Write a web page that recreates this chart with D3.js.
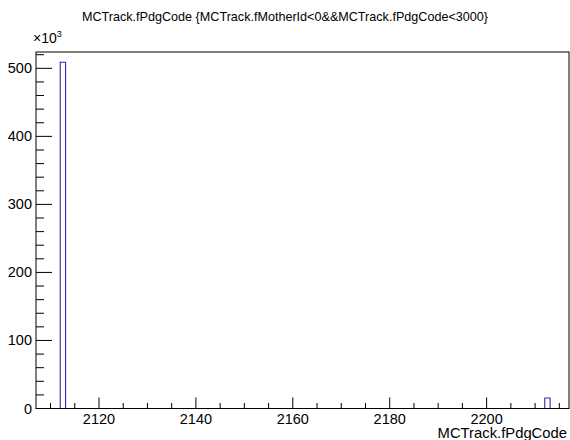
<!DOCTYPE html>
<html>
<head>
<meta charset="utf-8">
<script src="https://cdn.jsdelivr.net/npm/d3@7"></script>
<style>
  html, body { margin: 0; padding: 0; background: #fff; }
  svg { display: block; }
  text { font-family: "Liberation Sans", Arial, Helvetica, sans-serif; fill: #000; }
</style>
</head>
<body>
<svg id="chart" width="570" height="440"></svg>
<script>
// Histogram of MCTrack.fPdgCode for primary tracks (fMotherId < 0)
const titleText = "MCTrack.fPdgCode {MCTrack.fMotherId<0&&MCTrack.fPdgCode<3000}";
const xTitle = "MCTrack.fPdgCode";
const xRange = [2107, 2217];
const binWidth = 1.1;
const binLow = [2112, 2212];            // lower edges of filled bins
const binCounts = [509000, 15500];      // entries per filled bin
const yMax = 524000;
const xMajorTicks = [2120, 2140, 2160, 2180, 2200];
const yMajorTicks = [0, 100000, 200000, 300000, 400000, 500000];

const svg = d3.select("#chart");
const frameL = 36, frameR = 569, frameT = 52, frameB = 408.5;

const x = d3.scaleLinear().domain(xRange).range([frameL, frameR]);
const y = d3.scaleLinear().domain([0, yMax]).range([frameB, frameT]);

// title
svg.append("text")
  .attr("x", 285).attr("y", 21)
  .attr("text-anchor", "middle")
  .attr("font-size", 12.6)
  .text(titleText);

// histogram outline as a step line over the full axis range
const pts = [[xRange[0], 0]];
binLow.forEach((lo, i) => {
  pts.push([lo, 0], [lo, binCounts[i]], [lo + binWidth, binCounts[i]], [lo + binWidth, 0]);
});
pts.push([xRange[1], 0]);
svg.append("path")
  .attr("d", d3.line().x(d => x(d[0])).y(d => y(d[1]))(pts))
  .attr("fill", "none")
  .attr("stroke", "#2a2ab0")
  .attr("stroke-width", 1.1);

// frame
svg.append("rect")
  .attr("x", frameL).attr("y", frameT)
  .attr("width", frameR - frameL).attr("height", frameB - frameT)
  .attr("fill", "none").attr("stroke", "#000").attr("stroke-width", 1);

// x axis ticks (major every 20, minor every 5)
const gx = svg.append("g");
gx.selectAll("line")
  .data(d3.range(2110, 2217, 5))
  .join("line")
  .attr("x1", d => x(d)).attr("x2", d => x(d))
  .attr("y1", frameB)
  .attr("y2", d => frameB - (xMajorTicks.includes(d) ? 11 : 5.5))
  .attr("stroke", "#000");
gx.selectAll("text")
  .data(xMajorTicks)
  .join("text")
  .attr("x", d => x(d)).attr("y", 423.5)
  .attr("text-anchor", "middle")
  .attr("font-size", 14.5)
  .text(d => d3.format("d")(d));

// y axis ticks (major every 100k, minor every 20k)
const gy = svg.append("g");
gy.selectAll("line")
  .data(d3.range(0, yMax, 20000))
  .join("line")
  .attr("x1", frameL)
  .attr("x2", d => frameL + (d % 100000 === 0 ? 16 : 8))
  .attr("y1", d => y(d)).attr("y2", d => y(d))
  .attr("stroke", "#000");
gy.selectAll("text")
  .data(yMajorTicks)
  .join("text")
  .attr("x", 32).attr("y", d => y(d) + 5)
  .attr("text-anchor", "end")
  .attr("font-size", 14.5)
  .text(d => d / 1000);

// exponent label
const ex = svg.append("text").attr("x", 33).attr("y", 43).attr("font-size", 14);
ex.append("tspan").text("\u00d710");
ex.append("tspan").attr("dy", -6).attr("font-size", 9).text("3");

// x axis title
svg.append("text")
  .attr("x", 567).attr("y", 438)
  .attr("text-anchor", "end")
  .attr("font-size", 14.8)
  .text(xTitle);
</script>
</body>
</html>
